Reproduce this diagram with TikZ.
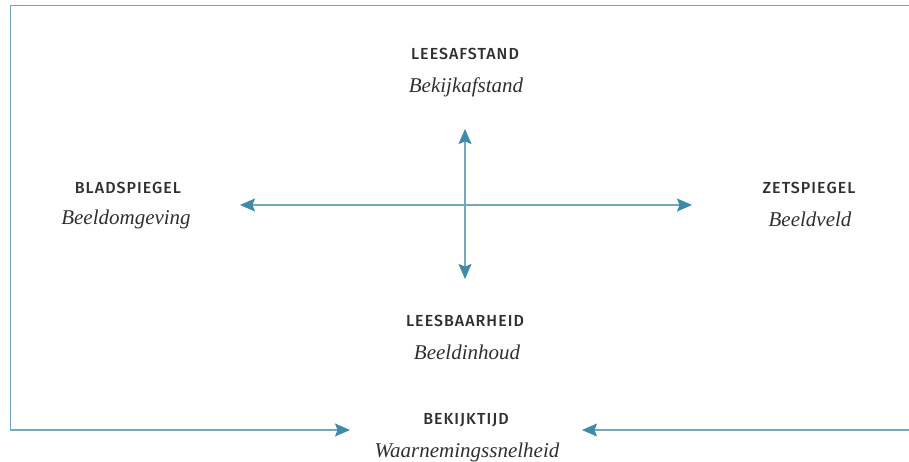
\documentclass[tikz,border=0pt]{standalone}
\usepackage{fontspec}
\setmainfont{Liberation Serif}
\newfontfamily\kopfont[LetterSpace=6.5,UprightFont=* Medium]{Fira Sans}
\usetikzlibrary{arrows.meta}
\definecolor{lijn}{HTML}{74A9BD}
\definecolor{pijl}{HTML}{3F8BA7}
\definecolor{tekst}{HTML}{303030}
\begin{document}
\begin{tikzpicture}[x=1pt,y=-1pt]
\tikzstyle{kop}=[font=\kopfont\fontsize{16}{18}\selectfont,text=tekst,inner sep=0pt]
\tikzstyle{sub}=[font=\itshape\fontsize{21}{24}\selectfont,text=tekst,inner sep=0pt]
\tikzstyle{pijllijn}=[draw=lijn,line width=1.4pt,{Stealth[length=15pt,width=13pt,inset=2.5pt,color=pijl]}-{Stealth[length=15pt,width=13pt,inset=2.5pt,color=pijl]}]
\tikzstyle{eenpijl}=[draw=lijn,line width=1.4pt,-{Stealth[length=15pt,width=13pt,inset=2.5pt,color=pijl]}]
\useasboundingbox (0,0) rectangle (909,462);

\node[kop] at (465,54) (leesafstand) {LEESAFSTAND};
\node[sub] at (466,87) (bekijkafstand) {Bekijkafstand};
\node[kop] at (128,188) (bladspiegel) {BLADSPIEGEL};
\node[sub] at (126,219) (beeldomgeving) {Beeldomgeving};
\node[kop] at (809,188) (zetspiegel) {ZETSPIEGEL};
\node[sub] at (810,219) (beeldveld) {Beeldveld};
\node[kop] at (465,321) (leesbaarheid) {LEESBAARHEID};
\node[sub] at (467,352) (beeldinhoud) {Beeldinhoud};
\node[kop] at (466,420) (bekijktijd) {BEKIJKTIJD};
\node[sub] at (467,452) (waarneming) {Waarnemingssnelheid};

% kruis in het midden
\coordinate (links) at (240,205);
\coordinate (rechts) at (692,205);
\coordinate (boven) at (465,129);
\coordinate (onder) at (465,279);
\draw[pijllijn] (links) -- (rechts);
\draw[pijllijn] (boven) -- (onder);

% kader rond het geheel
\coordinate (rb) at (909,5.5);
\coordinate (lb) at (10.5,5.5);
\coordinate (lo) at (10.5,430);
\coordinate (tipl) at (350,430);
\coordinate (ro) at (909,430);
\coordinate (tipr) at (582,430);
\draw[eenpijl] (rb) -- (lb) -- (lo) -- (tipl);
\draw[eenpijl] (ro) -- (tipr);
\end{tikzpicture}
\end{document}
